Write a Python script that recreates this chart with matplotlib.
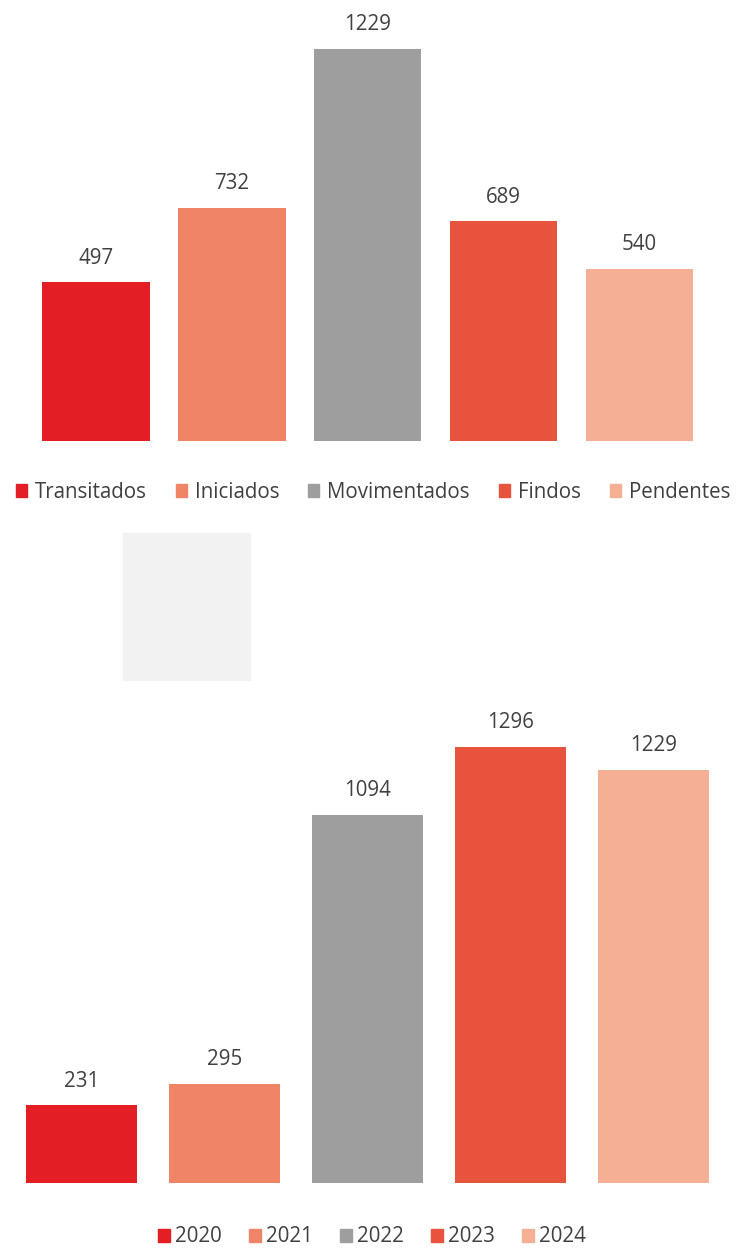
import matplotlib.pyplot as plt
from matplotlib.patches import Patch, Rectangle

plt.rcParams['font.family'] = ['Open Sans', 'DejaVu Sans']

# dados
categorias = ["Transitados", "Iniciados", "Movimentados", "Findos", "Pendentes"]
valores_cat = [497, 732, 1229, 689, 540]
anos = ["2020", "2021", "2022", "2023", "2024"]
valores_anos = [231, 295, 1094, 1296, 1229]
cores = ["#E31E24", "#F08466", "#9E9E9E", "#E8533D", "#F5AF94"]
cor_texto = "#404040"
fs = 14.8

W, H = 737, 1249
fig = plt.figure(figsize=(W / 100, H / 100), dpi=100)


def eixo(x0, x1, y_base, y_top):
    # coordenadas em pixels (y a partir do topo)
    return fig.add_axes([x0 / W, (H - y_base) / H, (x1 - x0) / W, (y_base - y_top) / H])


def barras(ax, nomes, vals, largura, vmax):
    xs = range(len(nomes))
    ax.bar(xs, vals, width=largura, color=cores)
    ax.set_xlim(-0.5, len(nomes) - 0.5)
    ax.set_ylim(0, vmax)
    for x, v in zip(xs, vals):
        ax.annotate(str(v), (x, v), xytext=(0, 24), textcoords="offset pixels",
                    ha="center", va="center", fontsize=fs, color=cor_texto)
    ax.axis("off")


hs = [Patch(color=c) for c in cores]

# grafico de cima
ax1 = eixo(28, 707.5, 441, 0)
barras(ax1, categorias, valores_cat, 0.79, 1229 * 441 / 392)
fig.legend(hs, categorias, ncol=5, loc="center", bbox_to_anchor=(373 / W, (H - 492) / H),
           frameon=False, handlelength=0.53, handleheight=0.63, handletextpad=0.39,
           columnspacing=1.42, fontsize=fs, labelcolor=cor_texto, borderpad=0, borderaxespad=0)

# retangulo cinzento
fig.patches.append(Rectangle((123 / W, (H - 680) / H), 127 / W, 147 / H,
                             transform=fig.transFigure, color="#F2F2F2", zorder=0))

# grafico de baixo
ax2 = eixo(10, 725, 1183, 700)
barras(ax2, anos, valores_anos, 0.78, 1296 * 483 / 436)
fig.legend(hs, anos, ncol=5, loc="center", bbox_to_anchor=(372 / W, (H - 1237) / H),
           frameon=False, handlelength=0.6, handleheight=0.63, handletextpad=0.25,
           columnspacing=1.3, fontsize=fs, labelcolor=cor_texto, borderpad=0, borderaxespad=0)

fig.savefig("out.png", dpi=100)
